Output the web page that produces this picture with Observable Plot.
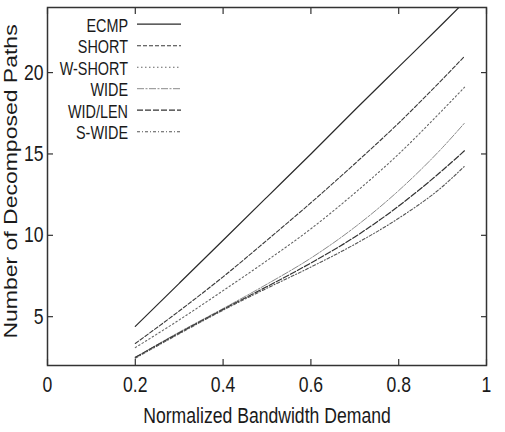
<!DOCTYPE html>
<html><head><meta charset="utf-8">
<script src="https://cdn.jsdelivr.net/npm/d3@7"></script>
<script src="https://cdn.jsdelivr.net/npm/@observablehq/plot@0.6"></script>
<style>
body{margin:0;background:#fff;}
#wrap{width:505px;height:432px;}
</style></head><body><div id="wrap"></div>
<script>
// Data
const demand = [0.2, 0.3, 0.4, 0.5, 0.6, 0.7, 0.8, 0.9, 0.95];
const ecmp    = [4.4, 7.05, 9.7, 12.35, 15.0, 17.7, 20.35, 23.0, 24.35];
const short   = [3.35, 5.35, 7.45, 9.7, 12.0, 14.4, 16.9, 19.6, 21.0];
const wShort  = [3.1, 4.8, 6.6, 8.45, 10.4, 12.6, 15.0, 17.7, 19.1];
const wide    = [2.5, 4.05, 5.5, 7.0, 8.6, 10.5, 12.75, 15.4, 16.9];
const widLen  = [2.5, 4.0, 5.45, 6.85, 8.3, 9.9, 11.8, 14.0, 15.2];
const sWide   = [2.45, 3.95, 5.4, 6.75, 8.05, 9.45, 11.05, 13.0, 14.25];
const seriesNames = ["ECMP", "SHORT", "W-SHORT", "WIDE", "WID/LEN", "S-WIDE"];
const seriesValues = [ecmp, short, wShort, wide, widLen, sWide];
const xTicks = [0, 0.2, 0.4, 0.6, 0.8, 1];
const yTicks = [5, 10, 15, 20];
const xLabel = "Normalized Bandwidth Demand";
const yLabel = "Number of Decomposed Paths";

// Styles
const lineStyle = {
  "ECMP":    {stroke: "#2a2a2a", dash: null,          width: 1.2},
  "SHORT":   {stroke: "#3a3a3a", dash: "4,2",         width: 1.1},
  "W-SHORT": {stroke: "#666",    dash: "1.5,2.5",     width: 1.1},
  "WIDE":    {stroke: "#8a8a8a", dash: "7,1.5,2,1.5", width: 1.0},
  "WID/LEN": {stroke: "#333",    dash: "6,2",         width: 1.2},
  "S-WIDE":  {stroke: "#555",    dash: "3,2,1,2",     width: 1.1}
};

const rows = seriesNames.flatMap((name, i) =>
  demand.map((d, j) => ({name, x: d, y: seriesValues[i][j]})));

const font = "'Liberation Sans', Arial, sans-serif";

const chart = Plot.plot({
  width: 505, height: 432,
  marginLeft: 47, marginRight: 19, marginTop: 7, marginBottom: 67,
  style: {fontFamily: font, fontSize: "22px", color: "#1a1a1a", background: "#fff", overflow: "visible"},
  x: {domain: [0, 1]},
  y: {domain: [2, 24]},
  marks: [
    ...seriesNames.map(name => Plot.line(rows.filter(r => r.name === name), {
      x: "x", y: "y", curve: "monotone-x", clip: true,
      stroke: lineStyle[name].stroke,
      strokeWidth: lineStyle[name].width,
      strokeDasharray: lineStyle[name].dash
    })),
    Plot.axisX(xTicks, {anchor: "bottom", tickSize: -6, tickPadding: 17, label: null,
      tickFormat: d => String(d), stroke: "#333", strokeWidth: 1.2}),
    Plot.axisX(xTicks, {anchor: "top", tickSize: -6, label: null, tickFormat: () => "", stroke: "#333", strokeWidth: 1.2}),
    Plot.axisY(yTicks, {anchor: "left", tickSize: -6, tickPadding: 10, label: null,
      tickFormat: d => String(d), stroke: "#333", strokeWidth: 1.2}),
    Plot.axisY(yTicks, {anchor: "right", tickSize: -6, label: null, tickFormat: () => "", stroke: "#333", strokeWidth: 1.2}),
    Plot.frame({stroke: "#333", strokeWidth: 1.5}),
    Plot.text([xLabel], {frameAnchor: "bottom", dy: 42, lineAnchor: "top", fontSize: 22, fill: "#1a1a1a"}),
    Plot.text([yLabel], {frameAnchor: "left", dx: -36, dy: -5, rotate: -90, textAnchor: "middle",
      fontSize: 23, fill: "#1a1a1a", className: "ytitle"})
  ]
});

// Legend inside the plot, top-left (built from the series arrays)
const svg = d3.select(chart);
const lg = svg.append("g").attr("class", "legend").attr("font-family", font).attr("font-size", 18);
seriesNames.forEach((name, i) => {
  const yb = 31.7 + i * 21.5;
  lg.append("text").attr("x", 128).attr("y", yb).attr("text-anchor", "end").attr("fill", "#1a1a1a").text(name);
  lg.append("line").attr("x1", 137).attr("x2", 181).attr("y1", yb - 7.5).attr("y2", yb - 7.5)
    .attr("stroke", lineStyle[name].stroke).attr("stroke-width", lineStyle[name].width)
    .attr("stroke-dasharray", lineStyle[name].dash);
});

document.getElementById("wrap").appendChild(chart);

// The reference uses a condensed face: squeeze horizontal texts
svg.selectAll("text").each(function() {
  const t = this.textContent;
  if (!t) return;
  if (this.closest(".ytitle")) {
    // rotated title: squeeze the glyph height (screen x direction)
    const tr = this.getAttribute("transform") || "";
    this.setAttribute("transform", tr + " scale(1,0.8)");
    return;
  }
  const len = this.getComputedTextLength();
  if (len > 0) {
    this.setAttribute("textLength", (len * 0.8).toFixed(2));
    this.setAttribute("lengthAdjust", "spacingAndGlyphs");
  }
});
</script>
</body></html>
